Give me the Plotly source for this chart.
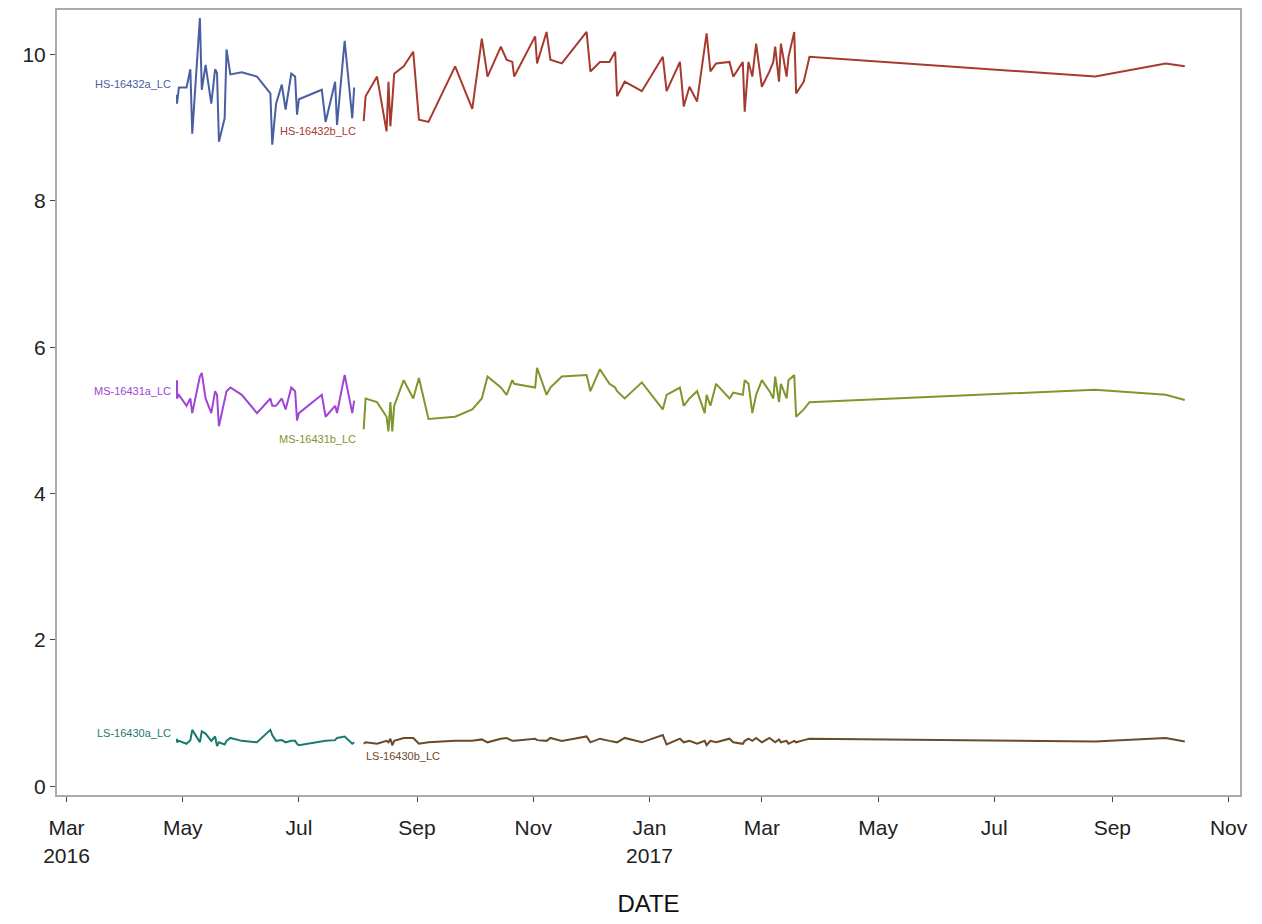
import plotly.graph_objects as go

dates_a = ["2016-04-28", "2016-04-28", "2016-04-29", "2016-05-03", "2016-05-05", "2016-05-06",
           "2016-05-10", "2016-05-11", "2016-05-13", "2016-05-16", "2016-05-18", "2016-05-19",
           "2016-05-20", "2016-05-23", "2016-05-24", "2016-05-26", "2016-06-01", "2016-06-09",
           "2016-06-16", "2016-06-17", "2016-06-19", "2016-06-22", "2016-06-24", "2016-06-27",
           "2016-06-29", "2016-06-30", "2016-07-01", "2016-07-13", "2016-07-15", "2016-07-20",
           "2016-07-21", "2016-07-25", "2016-07-29", "2016-07-30"]

dates_b = ["2016-08-04", "2016-08-05", "2016-08-11", "2016-08-16", "2016-08-17", "2016-08-18",
           "2016-08-19", "2016-08-20", "2016-08-25", "2016-08-30", "2016-09-02", "2016-09-07",
           "2016-09-21", "2016-09-30", "2016-10-05", "2016-10-08", "2016-10-15", "2016-10-18",
           "2016-10-21", "2016-10-22", "2016-11-02", "2016-11-03", "2016-11-08", "2016-11-10",
           "2016-11-16", "2016-11-29", "2016-12-01", "2016-12-06", "2016-12-11", "2016-12-14",
           "2016-12-15", "2016-12-19", "2016-12-28", "2017-01-08", "2017-01-10", "2017-01-17",
           "2017-01-19", "2017-01-22", "2017-01-26", "2017-01-30", "2017-01-31", "2017-02-02",
           "2017-02-05", "2017-02-12", "2017-02-14", "2017-02-19", "2017-02-20", "2017-02-22",
           "2017-02-24", "2017-02-26", "2017-03-01", "2017-03-05", "2017-03-07", "2017-03-08",
           "2017-03-10", "2017-03-11", "2017-03-14", "2017-03-15", "2017-03-18", "2017-03-19",
           "2017-03-23", "2017-03-26", "2017-08-23", "2017-09-29", "2017-10-09"]

hs_a = [9.45, 9.33, 9.55, 9.55, 9.8, 8.92, 10.5, 9.52, 9.86, 9.33, 9.8, 9.75, 8.81, 9.13, 10.07,
        9.73, 9.76, 9.7, 9.47, 8.77, 9.33, 9.59, 9.25, 9.74, 9.7, 9.18, 9.39, 9.52, 9.08, 9.63,
        9.04, 10.19, 9.13, 9.55]
hs_b = [9.09, 9.43, 9.7, 8.95, 9.63, 9.02, 9.36, 9.74, 9.84, 10.04,
        9.11, 9.08, 9.84, 9.26, 10.22, 9.7, 10.11, 9.93, 9.9, 9.7,
        10.25, 9.88, 10.31, 9.93, 9.88, 10.31, 9.77, 9.9, 9.9, 10.04,
        9.43, 9.63, 9.5, 9.97, 9.5, 9.9, 9.29, 9.56, 9.36, 10.11,
        10.29, 9.77, 9.88, 9.9, 9.7, 9.9, 9.22, 9.9, 9.7, 10.15,
        9.56, 9.77, 9.9, 10.11, 9.63, 10.15, 9.7, 9.97, 10.31, 9.47,
        9.63, 9.97, 9.7, 9.88, 9.84]
ms_a = [5.55, 5.3, 5.35, 5.2, 5.3, 5.1, 5.6, 5.65, 5.3, 5.1, 5.4, 5.35, 4.92, 5.3, 5.4, 5.45,
        5.35, 5.1, 5.3, 5.2, 5.2, 5.3, 5.15, 5.45, 5.4, 5.0, 5.1, 5.35, 5.05, 5.2, 5.1, 5.62,
        5.1, 5.27]
ms_b = [4.88, 5.3, 5.25, 5.05, 4.85, 5.25, 4.85, 5.2, 5.55, 5.3,
        5.58, 5.02, 5.05, 5.15, 5.3, 5.6, 5.45, 5.35, 5.55, 5.5,
        5.45, 5.72, 5.35, 5.45, 5.6, 5.62, 5.4, 5.7, 5.5, 5.45,
        5.4, 5.3, 5.52, 5.15, 5.35, 5.45, 5.2, 5.3, 5.4, 5.1,
        5.35, 5.2, 5.5, 5.3, 5.38, 5.35, 5.55, 5.5, 5.1, 5.35,
        5.55, 5.4, 5.3, 5.6, 5.25, 5.5, 5.3, 5.55, 5.62, 5.05,
        5.15, 5.25, 5.42, 5.35, 5.28]
ls_a = [0.65, 0.6, 0.62, 0.58, 0.63, 0.77, 0.6, 0.75, 0.72, 0.62, 0.68, 0.55, 0.6, 0.57, 0.62,
        0.66, 0.62, 0.6, 0.77, 0.7, 0.62, 0.63, 0.6, 0.62, 0.62, 0.58, 0.56, 0.62, 0.62, 0.63,
        0.66, 0.68, 0.58, 0.6]
ls_b = [0.58, 0.6, 0.58, 0.62, 0.6, 0.65, 0.56, 0.62, 0.66, 0.66,
        0.58, 0.6, 0.62, 0.62, 0.64, 0.6, 0.65, 0.66, 0.62, 0.62,
        0.65, 0.63, 0.62, 0.66, 0.62, 0.68, 0.6, 0.65, 0.62, 0.6,
        0.6, 0.66, 0.6, 0.7, 0.57, 0.65, 0.6, 0.62, 0.58, 0.62,
        0.56, 0.62, 0.6, 0.65, 0.6, 0.58, 0.62, 0.65, 0.62, 0.66,
        0.6, 0.66, 0.62, 0.6, 0.64, 0.6, 0.62, 0.58, 0.62, 0.6,
        0.63, 0.65, 0.61, 0.66, 0.61]

series = [
    ("HS-16432a_LC", dates_a, hs_a, "#4a5ea2"),
    ("HS-16432b_LC", dates_b, hs_b, "#a63a2e"),
    ("MS-16431a_LC", dates_a, ms_a, "#a044d8"),
    ("MS-16431b_LC", dates_b, ms_b, "#7f962c"),
    ("LS-16430a_LC", dates_a, ls_a, "#1b7a6e"),
    ("LS-16430b_LC", dates_b, ls_b, "#6b4a2a"),
]

# curve label positions: (x, y, anchor)
labels = {
    "HS-16432a_LC": ("2016-04-26", 9.6, "right"),
    "HS-16432b_LC": ("2016-08-01", 8.96, "right"),
    "MS-16431a_LC": ("2016-04-26", 5.4, "right"),
    "MS-16431b_LC": ("2016-08-01", 4.75, "right"),
    "LS-16430a_LC": ("2016-04-26", 0.73, "right"),
    "LS-16430b_LC": ("2016-08-04", 0.41, "left"),
}

tick_vals = ["2016-03-01", "2016-05-01", "2016-07-01", "2016-09-01", "2016-11-01", "2017-01-01",
             "2017-03-01", "2017-05-01", "2017-07-01", "2017-09-01", "2017-11-01"]
tick_text = ["Mar<br>2016", "May", "Jul", "Sep", "Nov", "Jan<br>2017", "Mar", "May", "Jul", "Sep", "Nov"]

fig = go.Figure()
for name, x, y, color in series:
    fig.add_trace(go.Scatter(x=x, y=y, mode="lines", name=name,
                             line=dict(color=color, width=2)))
    lx, ly, anchor = labels[name]
    fig.add_annotation(x=lx, y=ly, text=name, showarrow=False, xanchor=anchor,
                       font=dict(size=11, color=color))

axis_style = dict(showline=True, linecolor="#aaaaaa", linewidth=2, mirror=True,
                  showgrid=False, zeroline=False, ticks="outside", tickcolor="#444",
                  tickfont=dict(size=21, color="#222"))

fig.update_layout(
    width=1262, height=924,
    plot_bgcolor="white", paper_bgcolor="white",
    showlegend=False,
    margin=dict(l=49, r=30, t=0, b=137),
    font=dict(family="Liberation Sans, Arial, sans-serif"),
)
fig.update_xaxes(range=["2016-02-25", "2017-11-07"], tickvals=tick_vals, ticktext=tick_text,
                 ticklabelstandoff=8,
                 title=dict(text="DATE", font=dict(size=24, color="#111"), standoff=30),
                 **axis_style)
fig.update_yaxes(range=[-0.12, 10.61], tickvals=[0, 2, 4, 6, 8, 10], **axis_style)

fig.write_html("out.html")
